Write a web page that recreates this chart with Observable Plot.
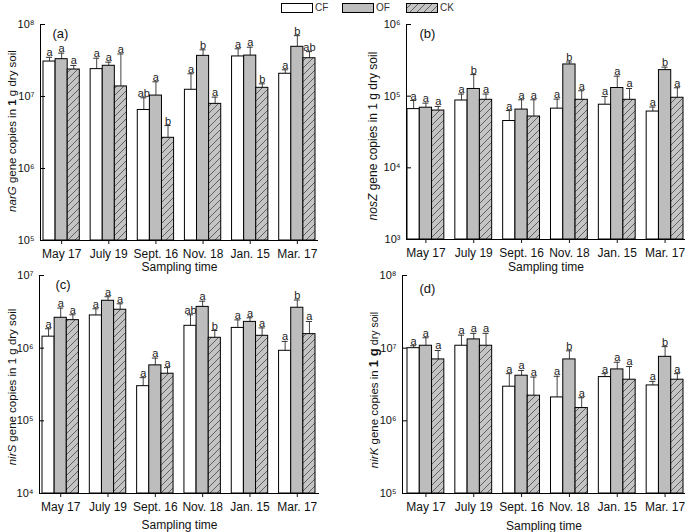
<!DOCTYPE html>
<html>
<head>
<meta charset="utf-8">
<script src="https://cdn.jsdelivr.net/npm/d3@7"></script>
<script src="https://cdn.jsdelivr.net/npm/@observablehq/plot@0.6"></script>
<style>
  body { margin: 0; background: white; }
  #wrap { position: relative; width: 685px; height: 532px; overflow: hidden; background: white;
          font-family: "Liberation Sans", Arial, sans-serif; }
  .panel { position: absolute; }
  .ylab { position: absolute; white-space: nowrap; font-size: 11.5px; color: #111;
          transform: translate(-50%, -50%) rotate(-90deg); }
  .legend { position: absolute; top: 2px; font-size: 10px; color: #333; display: flex; align-items: center; }
  .legend svg { margin-right: 1px; }
</style>
</head>
<body>
<svg width="0" height="0" style="position:absolute">
  <defs>
    <pattern id="hatch" patternUnits="userSpaceOnUse" width="7" height="7">
      <rect width="7" height="7" fill="#c4c4c4"></rect>
      <path d="M0,7 L7,0 M-1,1 L1,-1 M6,8 L8,6" stroke="#555" stroke-width="0.9"></path>
    </pattern>
  </defs>
</svg>
<div id="wrap"></div>
<script>
// ---------- data ----------
const dates = ["May 17", "July 19", "Sept. 16", "Nov. 18", "Jan. 15", "Mar. 17"];
const treatments = ["CF", "OF", "CK"];

// (a) narG
const narG_CF = [3.06e7, 2.4e7, 6.5e6, 1.24e7, 3.6e7, 2.07e7];
const narG_OF = [3.3e7, 2.67e7, 1.03e7, 3.67e7, 3.7e7, 4.9e7];
const narG_CK = [2.37e7, 1.38e7, 2.67e6, 7.9e6, 1.32e7, 3.4e7];
const narG_CF_err = [4.4e6, 1.0e7, 3.1e6, 8.3e6, 1.0e7, 2.8e6];
const narG_OF_err = [7.0e6, 3.3e6, 5.7e6, 7.8e6, 1.14e7, 2.1e7];
const narG_CK_err = [3.3e6, 2.52e7, 1.28e6, 1.9e6, 1.8e6, 8.0e6];
const narG_CF_sig = ["a", "a", "ab", "a", "a", "a"];
const narG_OF_sig = ["a", "a", "a", "b", "a", "b"];
const narG_CK_sig = ["a", "a", "b", "a", "b", "ab"];

// (b) nosZ
const nosZ_CF = [6.6e4, 8.7e4, 4.5e4, 6.7e4, 7.6e4, 6.1e4];
const nosZ_OF = [6.9e4, 1.26e5, 6.5e4, 2.77e5, 1.3e5, 2.31e5];
const nosZ_CK = [6.3e4, 8.9e4, 5.2e4, 8.9e4, 8.9e4, 9.5e4];
const nosZ_CF_err = [2.1e4, 2.0e4, 1.8e4, 2.4e4, 2.3e4, 0.95e4];
const nosZ_OF_err = [1.1e4, 7.4e4, 2.4e4, 2.3e4, 6.0e4, 2.3e4];
const nosZ_CK_err = [0.9e4, 1.8e4, 3.7e4, 3.0e4, 3.9e4, 3.6e4];
const nosZ_CF_sig = ["a", "a", "a", "a", "a", "a"];
const nosZ_OF_sig = ["a", "b", "a", "b", "a", "b"];
const nosZ_CK_sig = ["a", "a", "a", "a", "a", "a"];

// (c) nirS
const nirS_CF = [1.44e6, 2.82e6, 3.0e5, 2.03e6, 1.9e6, 9.2e5];
const nirS_OF = [2.62e6, 4.49e6, 5.8e5, 3.7e6, 2.3e6, 3.6e6];
const nirS_CK = [2.43e6, 3.38e6, 4.45e5, 1.39e6, 1.48e6, 1.56e6];
const nirS_CF_err = [4.1e5, 6.6e5, 9.3e4, 8.5e5, 5.5e5, 3.2e5];
const nirS_OF_err = [9.4e5, 6.1e5, 1.5e5, 7.3e5, 3.2e5, 1.0e6];
const nirS_CK_err = [4.5e5, 7.0e5, 9.5e4, 3.6e5, 4.2e5, 7.7e5];
const nirS_CF_sig = ["a", "a", "a", "ab", "a", "a"];
const nirS_OF_sig = ["a", "a", "a", "a", "a", "b"];
const nirS_CK_sig = ["a", "a", "a", "b", "a", "a"];

// (d) nirK
const nirK_CF = [1.0e7, 1.08e7, 2.95e6, 2.1e6, 4.0e6, 3.07e6];
const nirK_OF = [1.08e7, 1.32e7, 4.18e6, 7.0e6, 5.1e6, 7.6e6];
const nirK_CK = [7.0e6, 1.08e7, 2.22e6, 1.5e6, 3.68e6, 3.68e6];
const nirK_CF_err = [0.8e6, 4.3e6, 1.51e6, 2.0e6, 0.46e6, 0.42e6];
const nirK_OF_err = [3.1e6, 2.8e6, 0.76e6, 2.2e6, 1.3e6, 2.9e6];
const nirK_CK_err = [2.3e6, 5.2e6, 1.78e6, 0.58e6, 1.92e6, 0.78e6];
const nirK_CF_sig = ["a", "a", "a", "a", "a", "a"];
const nirK_OF_sig = ["a", "a", "a", "b", "a", "b"];
const nirK_CK_sig = ["a", "a", "a", "a", "a", "a"];

const yTicksA = [1e5, 1e6, 1e7, 1e8];
const yTicksB = [1e3, 1e4, 1e5, 1e6];
const yTicksC = [1e4, 1e5, 1e6, 1e7];
const yTicksD = [1e5, 1e6, 1e7, 1e8];

// ---------- drawing ----------
const fills = {CF: "white", OF: "#bdbdbd", CK: "url(#hatch)"};
const sup = {"0":"⁰","1":"¹","2":"²","3":"³","4":"⁴","5":"⁵","6":"⁶","7":"⁷","8":"⁸","9":"⁹"};
const fmtPow = d => "10" + String(Math.round(Math.log10(d))).split("").map(c => sup[c]).join("");

const wrap = document.getElementById("wrap");

function rowsOf(means, errs, sigs) {
  const rows = [];
  treatments.forEach((t, k) => {
    dates.forEach((d, i) => {
      rows.push({date: d, trt: t, mean: means[k][i], upper: means[k][i] + errs[k][i], sig: sigs[k][i]});
    });
  });
  return rows;
}

function panel(cfg) {
  const {sx, sy, w, h, fl, fr, ft, fb, gl, gr, ticks, rows, tag, tagDx, tagDy, titleDy, labelHtml, labX, labY, labSize} = cfg;
  const ml = fl - sx, mr = sx + w - fr, mt = ft - sy, mb = sy + h - fb;
  const xOpts = {type: "band", domain: dates, range: [gl - sx, gr - sx], paddingInner: 0.23, paddingOuter: 0, round: false};
  const bw = Plot.scale({x: xOpts}).bandwidth;
  const sub = bw / 3;
  const yMin = ticks[0], yMax = ticks[ticks.length - 1];
  const frameW = fr - fl;
  const marks = [];
  treatments.forEach((t, k) => {
    const data = rows.filter(r => r.trt === t);
    const off = (k - 1) * sub;
    marks.push(Plot.ruleX(data, {x: "date", y1: "mean", y2: "upper", dx: off, stroke: "#444", strokeWidth: 1}));
    marks.push(Plot.tickY(data, {x: "date", y: "upper", dx: off, insetLeft: bw / 2 - 3, insetRight: bw / 2 - 3, stroke: "#333", strokeWidth: 1}));
    marks.push(Plot.barY(data, {x: "date", y1: () => yMin, y2: "mean", insetLeft: k * sub, insetRight: (2 - k) * sub,
      fill: fills[t], stroke: "black", strokeWidth: 1}));
    marks.push(Plot.text(data, {x: "date", y: "upper", text: "sig", dx: off, dy: -1, lineAnchor: "bottom", fontSize: 11, fill: "#222"}));
  });
  marks.push(Plot.ruleY([yMin], {stroke: "black", strokeWidth: 1}));
  marks.push(Plot.frame({anchor: "left", stroke: "black", strokeWidth: 1}));
  marks.push(Plot.ruleY(ticks, {insetRight: frameW - 5, stroke: "black", strokeWidth: 1}));
  marks.push(Plot.axisY({ticks, tickFormat: fmtPow, tickSize: 0, tickPadding: 6, fontSize: 11, label: null}));
  marks.push(Plot.axisX({tickSize: 4, tickPadding: 5, fontSize: 12, label: null}));
  marks.push(Plot.text(["Sampling time"], {frameAnchor: "bottom", dy: titleDy, lineAnchor: "middle", fontSize: 12, fill: "#111"}));
  marks.push(Plot.text([tag], {frameAnchor: "top-left", dx: tagDx, dy: tagDy, textAnchor: "start", lineAnchor: "middle", fontSize: 13, fill: "#111"}));

  const svg = Plot.plot({
    width: w, height: h,
    marginLeft: ml, marginRight: mr, marginTop: mt, marginBottom: mb,
    style: {background: "none", fontFamily: "Liberation Sans, Arial, sans-serif", overflow: "visible", color: "#111"},
    x: {...xOpts, label: null, axis: null},
    y: {type: "log", domain: [yMin, yMax], label: null, axis: null},
    marks
  });
  svg.classList.add("panel");
  svg.style.left = sx + "px";
  svg.style.top = sy + "px";
  wrap.appendChild(svg);

  const lab = document.createElement("div");
  lab.className = "ylab";
  lab.style.left = labX + "px";
  lab.style.top = labY + "px";
  if (labSize) lab.style.fontSize = labSize + "px";
  lab.innerHTML = labelHtml;
  wrap.appendChild(lab);
}

panel({sx: 0, sy: 0, w: 330, h: 275, fl: 40, fr: 318, ft: 24, fb: 240, gl: 43, gr: 315, ticks: yTicksA,
  rows: rowsOf([narG_CF, narG_OF, narG_CK], [narG_CF_err, narG_OF_err, narG_CK_err], [narG_CF_sig, narG_OF_sig, narG_CK_sig]),
  tag: "(a)", tagDx: 12, tagDy: 9, titleDy: 27,
  labelHtml: "<i>narG</i> gene copies in <b>1</b> g dry soil", labX: 12, labY: 131});

panel({sx: 340, sy: 0, w: 345, h: 275, fl: 406, fr: 685, ft: 24, fb: 239, gl: 407, gr: 683, ticks: yTicksB,
  rows: rowsOf([nosZ_CF, nosZ_OF, nosZ_CK], [nosZ_CF_err, nosZ_OF_err, nosZ_CK_err], [nosZ_CF_sig, nosZ_OF_sig, nosZ_CK_sig]),
  tag: "(b)", tagDx: 13, tagDy: 9, titleDy: 28,
  labelHtml: "<i>nosZ</i> gene copies in 1 g dry soil", labX: 373, labY: 136, labSize: 12});

panel({sx: 0, sy: 262, w: 330, h: 270, fl: 39, fr: 319, ft: 275, fb: 493, gl: 42, gr: 315, ticks: yTicksC,
  rows: rowsOf([nirS_CF, nirS_OF, nirS_CK], [nirS_CF_err, nirS_OF_err, nirS_CK_err], [nirS_CF_sig, nirS_OF_sig, nirS_CK_sig]),
  tag: "(c)", tagDx: 16, tagDy: 9, titleDy: 32,
  labelHtml: "<i>nirS</i> gene copies in 1 g dry soil", labX: 12, labY: 387});

panel({sx: 340, sy: 262, w: 345, h: 270, fl: 402, fr: 685, ft: 275, fb: 493, gl: 407, gr: 683, ticks: yTicksD,
  rows: rowsOf([nirK_CF, nirK_OF, nirK_CK], [nirK_CF_err, nirK_OF_err, nirK_CK_err], [nirK_CF_sig, nirK_OF_sig, nirK_CK_sig]),
  tag: "(d)", tagDx: 17, tagDy: 13, titleDy: 33,
  labelHtml: "<i>nirK</i> gene copies in <b style='font-size:13px'>1 g</b> <span style='font-size:10.5px'>dry soil</span>", labX: 373, labY: 390});

// legend
const legendItems = [{t: "CF", x: 281}, {t: "OF", x: 342}, {t: "CK", x: 406}];
legendItems.forEach(it => {
  const div = document.createElement("div");
  div.className = "legend";
  div.style.left = it.x + "px";
  div.innerHTML = `<svg width="33" height="11"><rect x="0.5" y="1.5" width="31" height="9" fill="${fills[it.t]}" stroke="black" stroke-width="1"></rect></svg><span>${it.t}</span>`;
  wrap.appendChild(div);
});
</script>
</body>
</html>
